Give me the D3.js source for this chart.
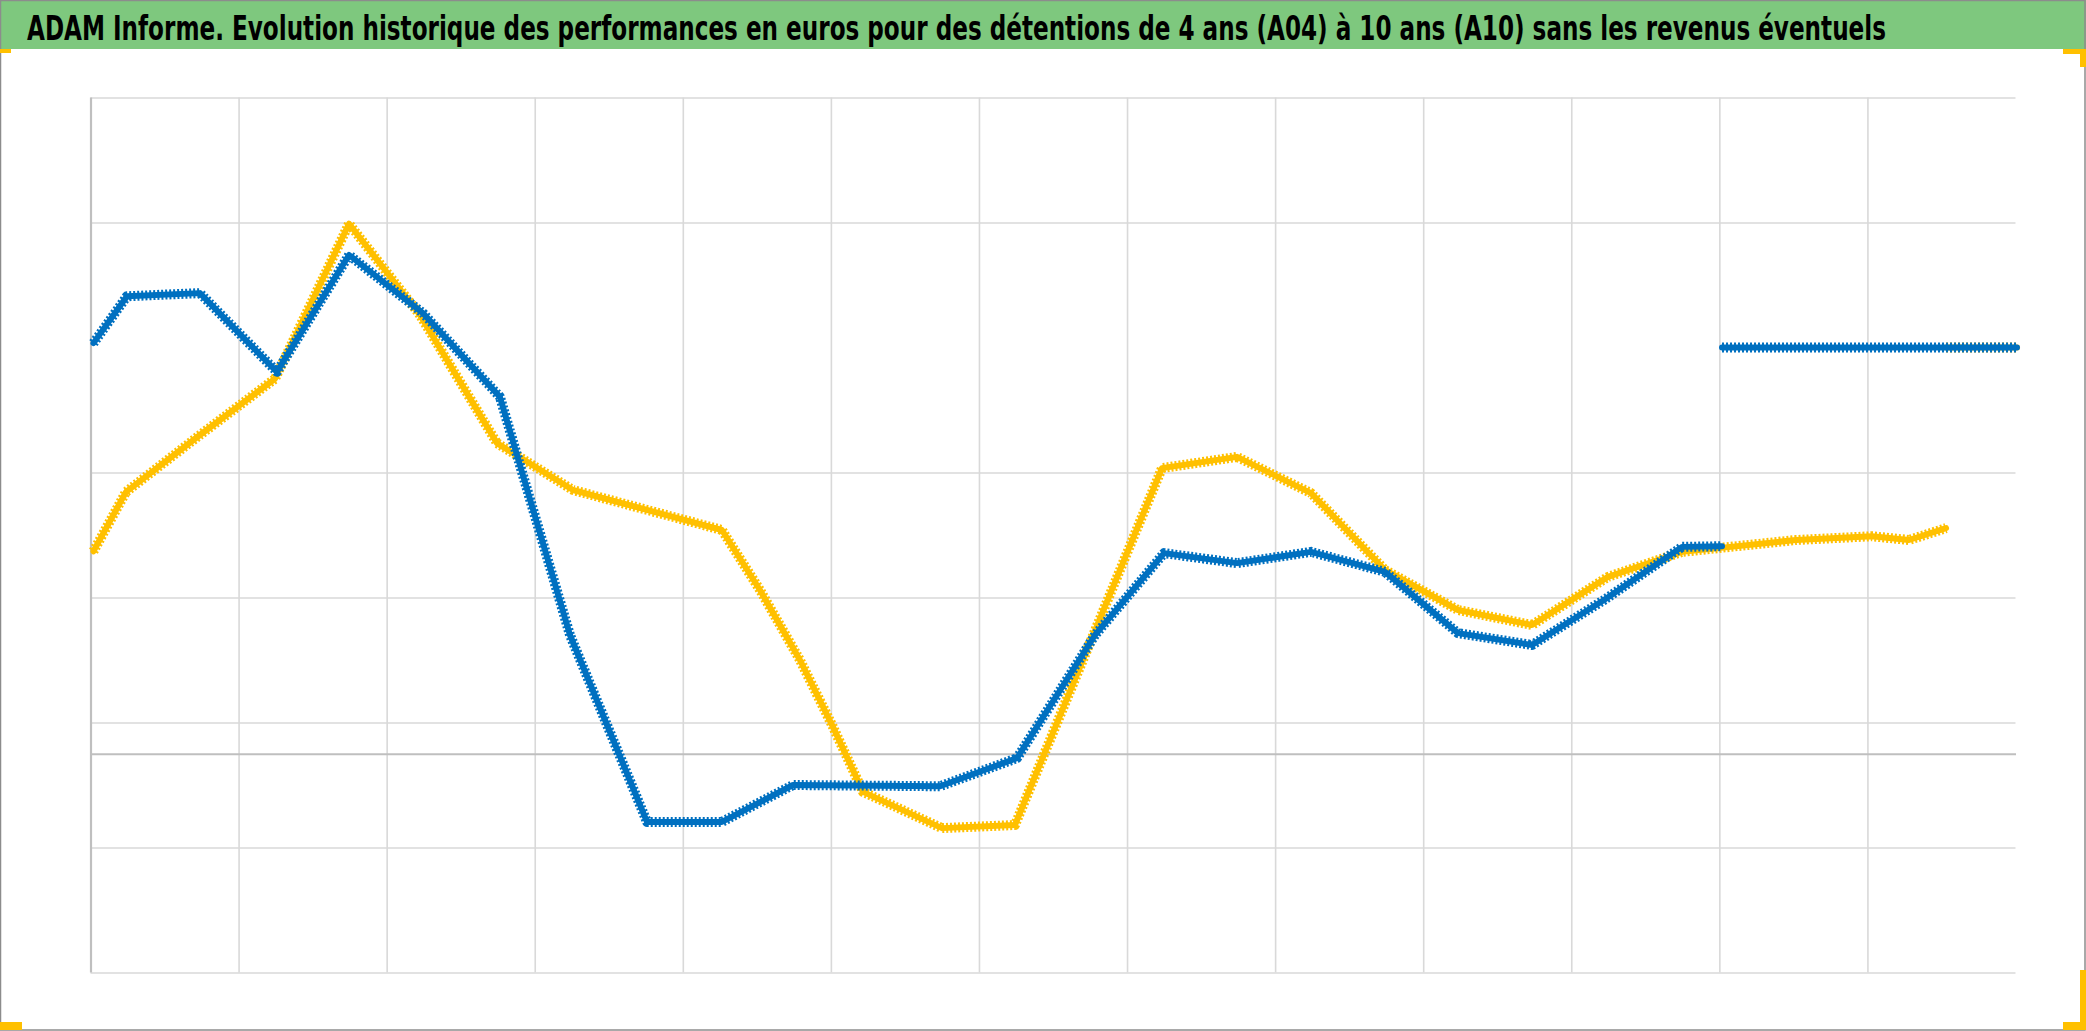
<!DOCTYPE html>
<html>
<head>
<meta charset="utf-8">
<script src="https://cdn.jsdelivr.net/npm/d3@7"></script>
<style>
html,body{margin:0;padding:0;background:#fff;overflow:hidden}
svg{display:block}
</style>
</head>
<body>
<svg id="chart" width="2086" height="1031"></svg>
<script>
// ---------- data ----------
const titleText = "ADAM Informe. Evolution historique des performances en euros pour des détentions de 4 ans (A04) à 10 ans (A10) sans les revenus éventuels";

// vertical gridline positions (category index) and horizontal gridline values
const xGrid = [0,1,2,3,4,5,6,7,8,9,10,11,12];
const yGrid = [-35,-15,5,25,45,85,105];

// blue series (main part)
const blueX = [0.02,0.246,0.739,1.259,1.746,2.245,2.765,2.90,3.238,3.758,4.264,4.744,5.737,6.257,6.784,7.25,7.743,8.243,8.742,9.235,9.735,10.221,10.748,11.018];
const blueV = [65.7,73.2,73.7,61.1,79.8,70.5,57.1,46.2,19.0,-10.9,-10.9,-5.0,-5.2,-0.7,19.0,32.1,30.5,32.3,29.1,19.3,17.4,24.6,33.1,33.2];
// blue series (flat tail)
const blueTailX = [11.018,13.01];
const blueTailV = [65.0,65.0];

// gold series (main part)
const goldX = [0.02,0.24,0.739,1.246,1.746,2.225,2.745,3.258,4.264,4.521,4.791,5.014,5.217,5.75,6.243,7.236,7.743,8.243,8.742,9.235,9.735,10.248,10.748,11.518,12.031,12.281,12.531];
const goldV = [32.4,41.9,51.0,60.0,84.8,70.2,49.7,42.2,35.8,26.2,15.0,4.3,-6.1,-11.9,-11.4,45.7,47.5,41.7,29.4,23.0,20.6,28.3,32.3,34.2,34.8,34.2,36.1];
// gold series (flat tail)
const goldTailX = [12.531,13.01];
const goldTailV = [65.0,65.0];

// ---------- drawing ----------
const svg = d3.select("#chart");
const W = 2086, H = 1031;
const plot = {left: 90.5, right: 2015.5, top: 97.5, bottom: 972.5};

const x = d3.scaleLinear().domain([0,13]).range([plot.left, plot.right]);
const y = d3.scaleLinear().domain([-35,105]).range([plot.bottom, plot.top]);

svg.append("rect").attr("x",0).attr("y",0).attr("width",W).attr("height",H).attr("fill","#ffffff");

// title bar
svg.append("rect").attr("x",0).attr("y",0).attr("width",W).attr("height",49).attr("fill","#7ec87e");
const title = svg.append("text")
  .attr("x",0).attr("y",0)
  .attr("font-family","'DejaVu Sans Condensed','Liberation Sans Narrow',sans-serif")
  .attr("font-weight","bold").attr("font-size",33)
  .attr("fill","#000")
  .text(titleText);
const natural = title.node().getComputedTextLength();
const targetW = 1860;
title.attr("transform",`translate(27,40) scale(${targetW/natural},1)`);

// horizontal gridlines
const gy = svg.append("g").attr("transform",`translate(${plot.left},0)`)
  .call(d3.axisLeft(y).tickValues(yGrid).tickSize(-(plot.right-plot.left)).tickFormat(""));
gy.select(".domain").remove();
gy.selectAll(".tick line").attr("stroke","#d9d9d9").attr("stroke-width",1.6);

// vertical gridlines
const gx = svg.append("g").attr("transform",`translate(0,${plot.bottom})`)
  .call(d3.axisBottom(x).tickValues(xGrid).tickSize(-(plot.bottom-plot.top)).tickFormat(""));
gx.select(".domain").remove();
gx.selectAll(".tick line").attr("stroke", d => d===0 ? "#bfbfbf" : "#d9d9d9")
  .attr("stroke-width", d => d===0 ? 2.2 : 1.6);

// zero axis line
const gz = svg.append("g").attr("transform",`translate(0,${y(0)})`)
  .call(d3.axisBottom(x).tickValues([]).tickSizeOuter(0));
gz.select(".domain").attr("stroke","#bfbfbf").attr("stroke-width",2.2);

// lines
const line = d3.line().x(d => x(d[0])).y(d => y(d[1]));
function drawSeries(xs, vs, color){
  const pts = xs.map((v,i)=>[v, vs[i]]);
  svg.append("path").datum(pts).attr("d",line)
    .attr("fill","none").attr("stroke",color).attr("stroke-width",6)
    .attr("stroke-linejoin","round").attr("stroke-linecap","round");
  svg.append("path").datum(pts).attr("d",line)
    .attr("fill","none").attr("stroke",color).attr("stroke-width",10)
    .attr("stroke-dasharray","2 2").attr("stroke-linejoin","round");
}
drawSeries(goldX, goldV, "#ffc000");
drawSeries(goldTailX, goldTailV, "#ffc000");
drawSeries(blueX, blueV, "#0070c0");
drawSeries(blueTailX, blueTailV, "#0070c0");

// outer frame
svg.append("rect").attr("x",0.5).attr("y",0.5).attr("width",W-1.5).attr("height",H-1.5)
  .attr("fill","none").attr("stroke","#8c8c8c").attr("stroke-width",1.5);

// corner marks
const gold = "#ffc000";
svg.append("rect").attr("x",0).attr("y",49).attr("width",11).attr("height",4).attr("fill",gold);
svg.append("rect").attr("x",2063).attr("y",49).attr("width",23).attr("height",5).attr("fill",gold);
svg.append("rect").attr("x",2080).attr("y",49).attr("width",6).attr("height",18).attr("fill",gold);
svg.append("rect").attr("x",0).attr("y",1022).attr("width",22).attr("height",8).attr("fill",gold);
svg.append("rect").attr("x",2063).attr("y",1022).attr("width",23).attr("height",8).attr("fill",gold);
svg.append("rect").attr("x",2080).attr("y",970).attr("width",6).attr("height",60).attr("fill",gold);
</script>
</body>
</html>
